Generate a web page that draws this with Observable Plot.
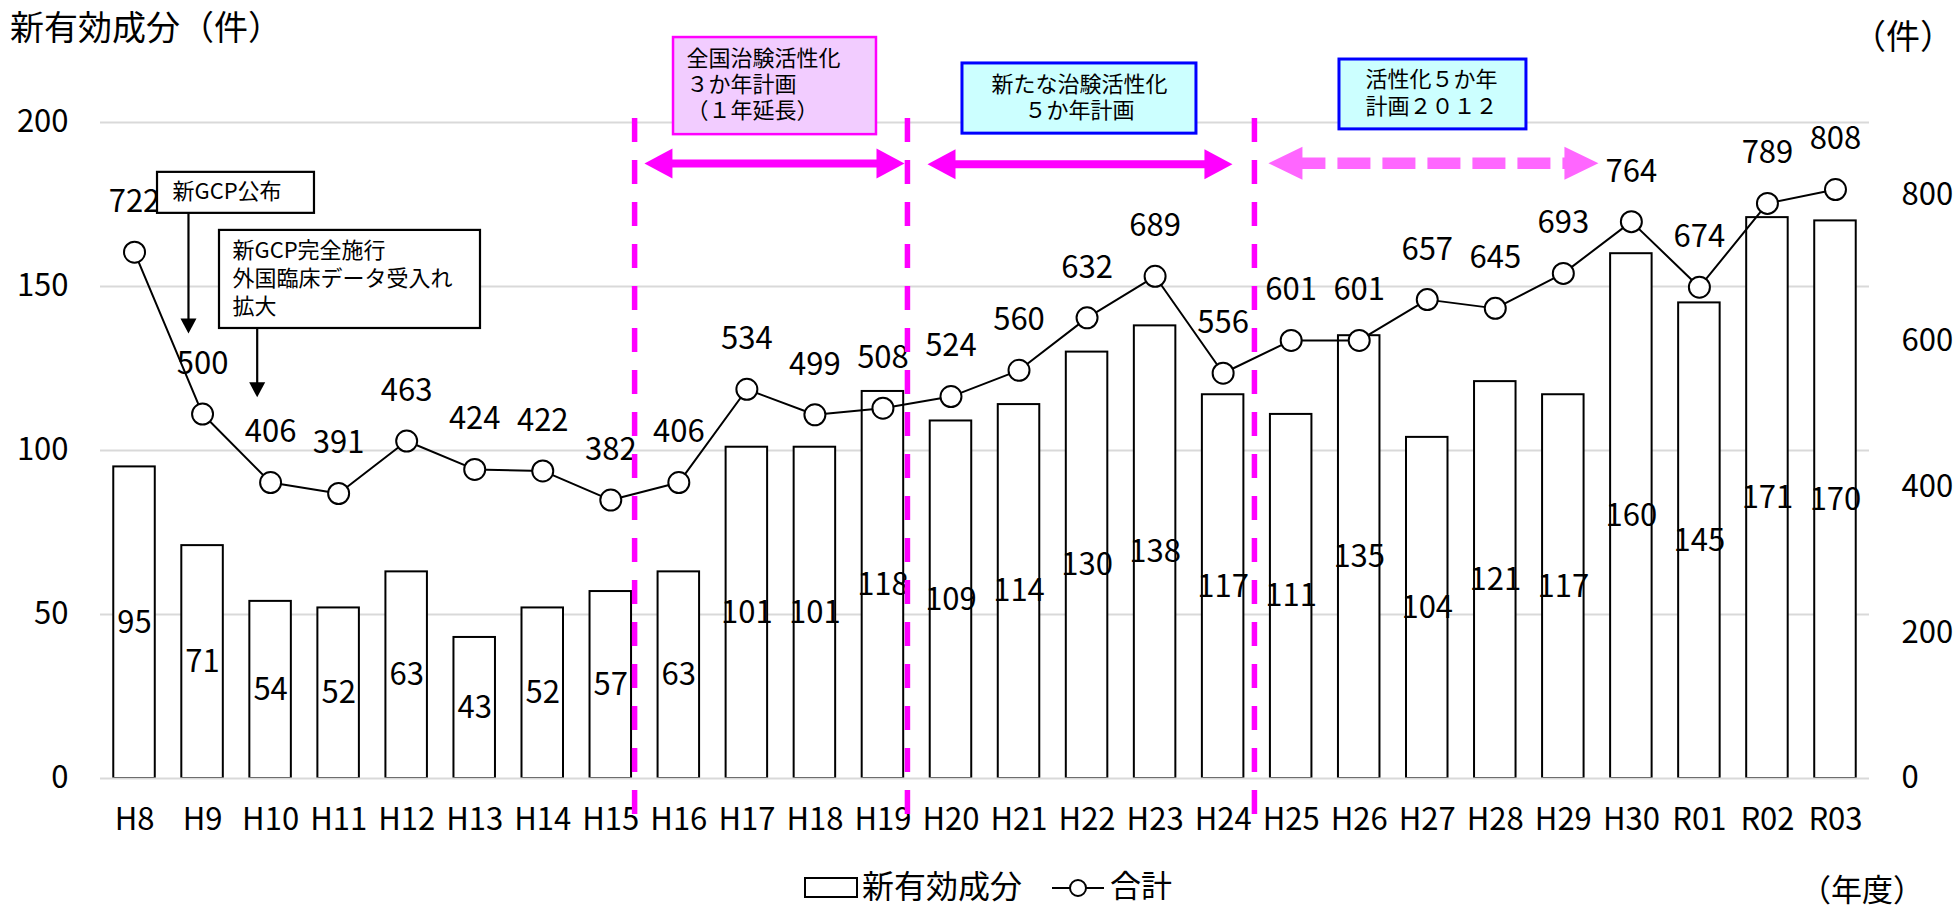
<!DOCTYPE html>
<html lang="ja">
<head>
<meta charset="utf-8">
<title>新有効成分</title>
<script src="https://cdn.jsdelivr.net/npm/d3@7"></script>
<script src="https://cdn.jsdelivr.net/npm/@observablehq/plot@0.6"></script>
<style>
html,body{margin:0;padding:0;background:#fff;}
body{font-family:"Noto Sans CJK JP","Noto Sans",sans-serif;color:#000;}
#wrap{position:relative;width:1955px;height:909px;}
#chart svg{display:block;}
.t{position:absolute;white-space:nowrap;line-height:1;}
</style>
</head>
<body>
<div id="wrap">
  <div id="chart"></div>
  <div class="t" style="left:10px;top:9px;font-size:34px;">新有効成分（件）</div>
  <div class="t" style="left:1852px;top:18px;font-size:34px;">（件）</div>
  <div class="t" style="left:1800px;top:872px;font-size:31px;">（年度）</div>
  <svg class="t" style="left:803px;top:876px" width="56" height="23"><rect x="2" y="2" width="52" height="19" fill="#fff" stroke="#000" stroke-width="2"/></svg>
  <div class="t" style="left:862px;top:868px;font-size:32px;">新有効成分</div>
  <svg class="t" style="left:1050px;top:876px" width="56" height="24"><line x1="2" y1="12" x2="54" y2="12" stroke="#000" stroke-width="2"/><circle cx="28" cy="12" r="8" fill="#fff" stroke="#000" stroke-width="2"/></svg>
  <div class="t" style="left:1110px;top:868px;font-size:31px;">合計</div>
</div>
<script>
// ---- data ----
const categories = ["H8","H9","H10","H11","H12","H13","H14","H15","H16","H17","H18","H19","H20","H21","H22","H23","H24","H25","H26","H27","H28","H29","H30","R01","R02","R03"];
const newSubstances = [95,71,54,52,63,43,52,57,63,101,101,118,109,114,130,138,117,111,135,104,121,117,160,145,171,170];
const totals = [722,500,406,391,463,424,422,382,406,534,499,508,524,560,632,689,556,601,601,657,645,693,764,674,789,808];
const leftTicks = [0,50,100,150,200];
const rightTicks = [0,200,400,600,800];
const leftMax = 200;
const rightMax = 900;

// ---- annotations (x in category-index units, y in left-axis units) ----
const periodDividers = [7.35, 11.36, 16.46];
const periodArrows = [
  {from: 7.495, to: 11.317, y: 187.5, color: "#FF00FF", width: 8, head: 28, half: 15, dash: null},
  {from: 11.655, to: 16.137, y: 187.3, color: "#FF00FF", width: 8, head: 28, half: 15, dash: null},
  {from: 16.666, to: 21.516, y: 187.6, color: "#FF66FF", width: 11.5, head: 34, half: 16.5, dash: "33,12"}
];
const noteArrows = [
  {x: 0.793, y1: 172.3, y2: 135.7},
  {x: 1.803, y1: 137.2, y2: 116.2}
];
const notes = [
  {x1:7.922, x2:10.905, y1:196.3, y2:225.9, fill:"#F2CCFF", stroke:"#FF00FF", sw:2.5,
   tx:8.113, ty:211.95, anchor:"start", lh:1.18, text:"全国治験活性化\n３か年計画\n（１年延長）"},
  {x1:12.169, x2:15.608, y1:196.6, y2:218.0, fill:"#CCFFFF", stroke:"#0000FF", sw:3,
   tx:13.889, ty:207.9, anchor:"middle", lh:1.18, text:"新たな治験活性化\n５か年計画"},
  {x1:17.71, x2:20.458, y1:197.9, y2:219.2, fill:"#CCFFFF", stroke:"#0000FF", sw:3,
   tx:18.092, ty:209.3, anchor:"start", lh:1.23, text:"活性化５か年\n計画２０１２"},
  {x1:0.338, x2:2.645, y1:172.3, y2:184.8, fill:"#FFFFFF", stroke:"#000000", sw:2.2,
   tx:0.558, ty:179.3, anchor:"start", lh:1.2, text:"新GCP公布"},
  {x1:1.249, x2:5.085, y1:137.2, y2:167.1, fill:"#FFFFFF", stroke:"#000000", sw:2.2,
   tx:1.44, ty:153.0, anchor:"start", lh:1.27, text:"新GCP完全施行\n外国臨床データ受入れ\n拡大"}
];

const FONT = '"Noto Sans CJK JP","Noto Sans",sans-serif';
const NUM = 31;
const toLeft = v => v * leftMax / rightMax;
const rows = categories.map((cat, i) => ({i, cat, bar: newSubstances[i], total: totals[i], totalY: toLeft(totals[i])}));
const half = 0.305;

const annotationMarks = [];
annotationMarks.push(Plot.ruleX(periodDividers, {y1: 201.2, y2: -11, stroke: "#FF00FF", strokeWidth: 5.5, strokeDasharray: "24,18"}));
for (const a of periodArrows) {
  annotationMarks.push(Plot.ruleY([a], {y: "y", x1: "from", x2: "to", insetLeft: a.head * 0.72, insetRight: a.head * 0.72,
    stroke: a.color, strokeWidth: a.width, strokeDasharray: a.dash || undefined}));
  annotationMarks.push(Plot.vector([{x: a.from, y: a.y, rot: -90}, {x: a.to, y: a.y, rot: 90}],
    {x: "x", y: "y", rotate: "rot", length: a.head, r: a.half, shape: "spike", anchor: "end", fill: a.color, stroke: "none"}));
}
for (const n of notes) {
  annotationMarks.push(Plot.rect([n], {x1: "x1", x2: "x2", y1: "y1", y2: "y2", fill: n.fill, stroke: n.stroke, strokeWidth: n.sw}));
  annotationMarks.push(Plot.text([n], {x: "tx", y: "ty", text: d => d.text, textAnchor: n.anchor, lineAnchor: "middle", lineHeight: n.lh, fontSize: 22, fill: "#000"}));
}
annotationMarks.push(Plot.ruleX(noteArrows, {x: "x", y1: "y1", y2: "y2", insetBottom: 10, stroke: "#000", strokeWidth: 2.2}));
annotationMarks.push(Plot.vector(noteArrows, {x: "x", y: "y2", rotate: 180, length: 15, r: 8, shape: "spike", anchor: "end", fill: "#000", stroke: "none"}));

const chart = Plot.plot({
  width: 1955, height: 909,
  marginTop: 122, marginBottom: 131, marginLeft: 100, marginRight: 86,
  x: {type: "linear", domain: [-0.5, categories.length - 0.5], label: null},
  y: {type: "linear", domain: [0, leftMax], label: null},
  style: {fontFamily: FONT, fontSize: NUM + "px", color: "#000", background: "#fff", overflow: "visible"},
  marks: [
    Plot.ruleY(leftTicks.filter(d => d > 0), {stroke: "#d9d9d9", strokeWidth: 2}),
    Plot.axisY(leftTicks, {anchor: "left", tickSize: 0, tickPadding: 32, label: null, fontSize: NUM}),
    Plot.axisY(rightTicks.map(toLeft), {anchor: "right", tickSize: 0, tickPadding: 32, label: null, fontSize: NUM,
      tickFormat: v => String(Math.round(v * rightMax / leftMax))}),
    Plot.axisX(categories.map((c, i) => i), {anchor: "bottom", tickSize: 0, tickPadding: 29, label: null, fontSize: NUM,
      tickFormat: i => categories[i]}),
    Plot.rect(rows, {x1: d => d.i - half, x2: d => d.i + half, y1: 0, y2: "bar", fill: "#fff", stroke: "#000", strokeWidth: 2}),
    Plot.ruleY([0], {stroke: "#d9d9d9", strokeWidth: 2}),
    Plot.text(rows, {x: "i", y: d => d.bar / 2, text: d => String(d.bar), fontSize: NUM}),
    Plot.line(rows, {x: "i", y: "totalY", stroke: "#000", strokeWidth: 2}),
    Plot.dot(rows, {x: "i", y: "totalY", r: 10.5, fill: "#fff", stroke: "#000", strokeWidth: 2}),
    Plot.text(rows, {x: "i", y: "totalY", dy: -50, text: d => String(d.total), fontSize: NUM}),
    ...annotationMarks
  ]
});
document.getElementById("chart").appendChild(chart);
</script>
</body>
</html>
